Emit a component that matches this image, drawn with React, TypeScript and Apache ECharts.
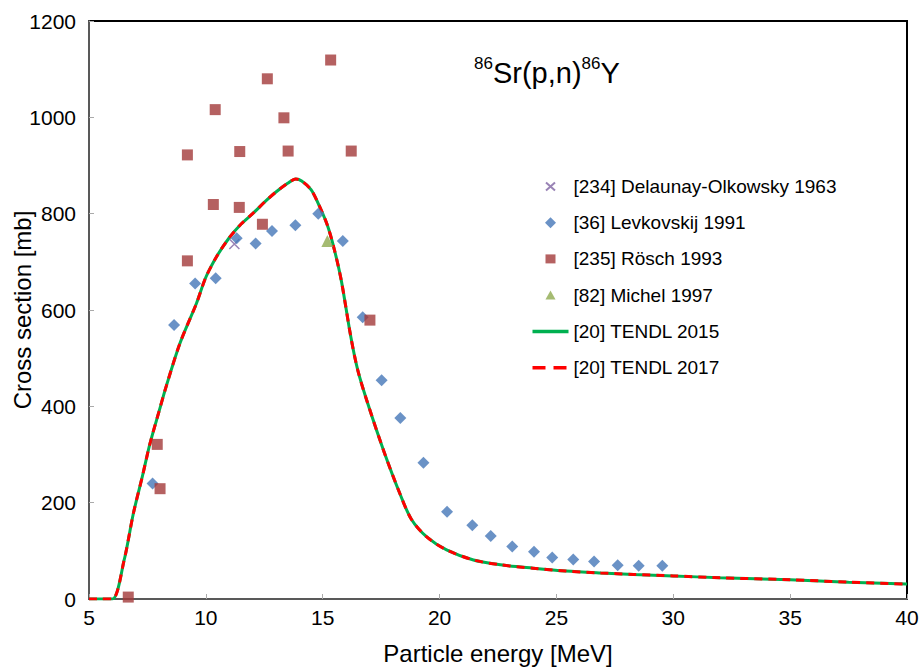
import React, { useEffect, useRef } from "react";
import * as echarts from "echarts";

const delaunay: number[][] = [[11.22, 737]];

const levkovskij: number[][] = [
  [7.72, 240], [8.64, 569], [9.54, 655], [10.42, 666], [11.32, 749], [12.13, 738],
  [12.83, 764], [13.83, 776], [14.81, 800], [15.86, 743], [16.71, 585], [17.52, 454],
  [18.32, 376], [19.31, 283], [20.32, 181], [21.4, 153], [22.19, 131], [23.11, 109],
  [24.04, 98], [24.82, 86], [25.72, 82], [26.61, 78], [27.62, 70], [28.52, 69], [29.53, 69],
];

const rosch: number[][] = [
  [6.68, 4], [7.92, 321], [8.04, 229], [9.21, 702], [9.21, 922], [10.32, 819],
  [10.4, 1016], [11.43, 813], [11.45, 929], [12.42, 778], [12.63, 1080], [13.34, 999],
  [13.52, 930], [15.34, 1119], [16.22, 930], [17.02, 579],
];

const michel: number[][] = [[15.2, 743]];

const tendl: number[][] = [
  [5, 0], [5.5, 0], [6.0, 0], [6.5, 80], [6.9, 178], [7.3, 258], [7.6, 321], [8.0, 390],
  [8.3, 441], [8.9, 532], [9.6, 614], [10.0, 668], [10.5, 714], [11.0, 750], [11.5, 778],
  [12.0, 800], [12.6, 828], [13.0, 845], [13.5, 863], [13.85, 872], [14.1, 868],
  [14.5, 850], [14.8, 822], [15.2, 776], [15.5, 725], [15.8, 660], [16.2, 545],
  [16.5, 475], [16.9, 410], [17.6, 309], [18.3, 219], [18.8, 165], [19.45, 129],
  [20.3, 102], [21.45, 81], [22.6, 71], [24, 64], [25.4, 58], [26.9, 54], [28.3, 51],
  [30, 48], [32, 44], [35, 40], [37.5, 35], [40, 31],
];

const legendNames = [
  "[234] Delaunay-Olkowsky 1963",
  "[36] Levkovskij 1991",
  "[235] Rösch 1993",
  "[82] Michel 1997",
  "[20] TENDL 2015",
  "[20] TENDL 2017",
];

// legend icons: 36 x 11 boxes (the leading moves fix the bounding box)
const BOX = "M0,0 M36,11 ";
const legendIcons = [
  "path://" + BOX + "M13.5,1.5 L22.5,9.5 M22.5,1.5 L13.5,9.5",
  "path://" + BOX + "M18,0 L23.5,5.5 L18,11 L12.5,5.5 Z",
  "path://" + BOX + "M13,1 L23,1 L23,10 L13,10 Z",
  "path://" + BOX + "M18,1 L23,10 L13,10 Z",
  "path://" + BOX + "M0,4 L36,4 L36,7.5 L0,7.5 Z",
  "path://" + BOX + "M0,4 L13,4 L13,7.5 L0,7.5 Z M21,4 L34,4 L34,7.5 L21,7.5 Z",
];

const FONT = "Liberation Sans, Arial, sans-serif";

export default function App() {
  const ref = useRef<HTMLDivElement>(null);
  useEffect(() => {
    if (!ref.current) return;
    const chart = echarts.init(ref.current, null, { renderer: "svg" });
    chart.setOption({
      animation: false,
      backgroundColor: "#fff",
      textStyle: { fontFamily: FONT },
      title: {
        left: 474,
        top: 55,
        padding: 0,
        text: "{sup|86}{b|Sr(p,n)}{sup|86}{b|Y}",
        textStyle: {
          fontWeight: "normal",
          rich: {
            b: { fontSize: 29, fontWeight: "normal", fontFamily: FONT, color: "#000", lineHeight: 32, verticalAlign: "bottom" },
            sup: { fontSize: 17, fontWeight: "normal", fontFamily: FONT, color: "#000", lineHeight: 32, verticalAlign: "top" },
          },
        },
      },
      legend: {
        orient: "vertical",
        left: 530,
        top: 177,
        padding: 0,
        itemWidth: 36,
        itemHeight: 11,
        itemGap: 17.2,
        textStyle: { fontSize: 19, color: "#000", fontFamily: FONT },
        data: legendNames.map((n, i) => ({ name: n, icon: legendIcons[i] })),
      },
      grid: {
        left: 89,
        right: 14,
        top: 21,
        bottom: 71,
        show: true,
        borderColor: "#000",
        borderWidth: 2,
        outerBoundsMode: "none",
        containLabel: false,
      },
      xAxis: {
        type: "value",
        min: 5,
        max: 40,
        interval: 5,
        name: "Particle energy [MeV]",
        nameLocation: "middle",
        nameGap: 42,
        nameMoveOverlap: false,
        nameTextStyle: { fontSize: 24, color: "#000", fontFamily: FONT },
        axisLine: { show: true, lineStyle: { color: "#595959", width: 2 } },
        axisTick: { show: true, inside: true, length: 5, lineStyle: { color: "#aaa" } },
        axisLabel: { fontSize: 21, color: "#000", margin: 8, fontFamily: FONT, formatter: (v: number) => String(v) },
        splitLine: { show: false },
      },
      yAxis: {
        type: "value",
        min: 0,
        max: 1200,
        interval: 200,
        name: "Cross section [mb]",
        nameLocation: "middle",
        nameGap: 55,
        nameMoveOverlap: false,
        nameTextStyle: { fontSize: 24, color: "#000", fontFamily: FONT },
        axisLine: { show: true, lineStyle: { color: "#595959", width: 2 } },
        axisTick: { show: true, inside: true, length: 5, lineStyle: { color: "#aaa" } },
        axisLabel: { fontSize: 21, color: "#000", margin: 13, fontFamily: FONT, formatter: (v: number) => String(v) },
        splitLine: { show: false },
      },
      series: [
        {
          name: legendNames[4],
          type: "line",
          data: tendl,
          symbol: "none",
          smooth: 0.3,
          z: 2,
          lineStyle: { color: "#00B050", width: 3 },
          itemStyle: { color: "#00B050" },
        },
        {
          name: legendNames[5],
          type: "line",
          data: tendl,
          symbol: "none",
          smooth: 0.3,
          z: 3,
          lineStyle: { color: "#FF0000", width: 3, type: [8, 6] },
          itemStyle: { color: "#FF0000" },
        },
        {
          name: legendNames[0],
          type: "scatter",
          data: delaunay,
          symbol: "path://M0,0L10,10M10,0L0,10",
          symbolSize: 10,
          z: 5,
          itemStyle: { color: "none", borderColor: "#8064A2", borderWidth: 1.5 },
        },
        {
          name: legendNames[1],
          type: "scatter",
          data: levkovskij,
          symbol: "diamond",
          symbolSize: [12, 12],
          z: 5,
          itemStyle: { color: "#4577B8" },
        },
        {
          name: legendNames[2],
          type: "scatter",
          data: rosch,
          symbol: "rect",
          symbolSize: 11,
          z: 5,
          itemStyle: { color: "#A33A3A" },
        },
        {
          name: legendNames[3],
          type: "scatter",
          data: michel,
          symbol: "triangle",
          symbolSize: 12,
          z: 6,
          itemStyle: { color: "#8EAA4F" },
        },
      ],
    });
    return () => chart.dispose();
  }, []);
  return (
    <div
      ref={ref}
      style={{ position: "absolute", left: 0, top: 0, width: 921, height: 670, overflow: "hidden" }}
    />
  );
}
